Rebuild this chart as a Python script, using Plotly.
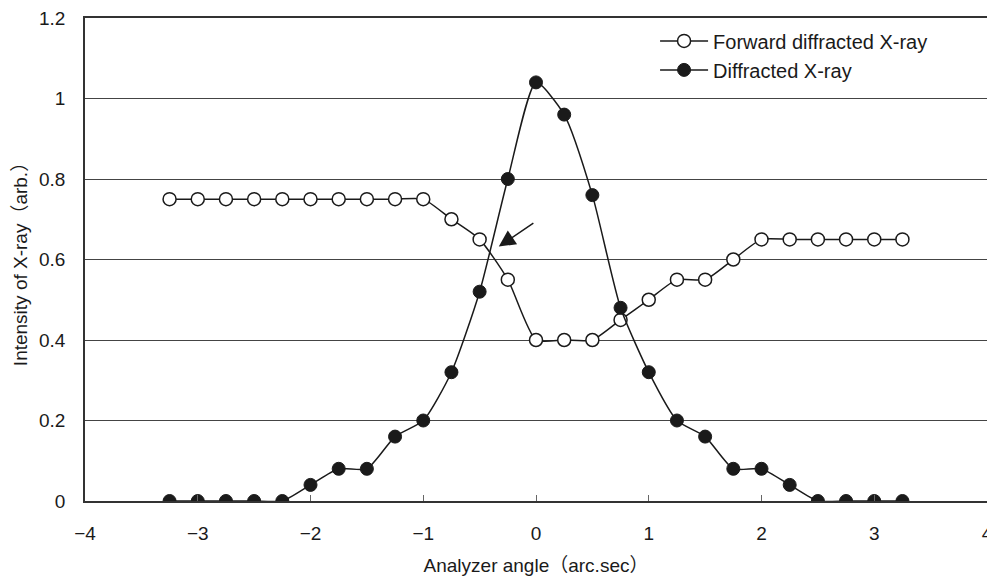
import plotly.graph_objects as go

angle = [-3.25, -3.0, -2.75, -2.5, -2.25, -2.0, -1.75, -1.5, -1.25, -1.0, -0.75, -0.5, -0.25,
         0.0, 0.25, 0.5, 0.75, 1.0, 1.25, 1.5, 1.75, 2.0, 2.25, 2.5, 2.75, 3.0, 3.25]
forward = [0.75, 0.75, 0.75, 0.75, 0.75, 0.75, 0.75, 0.75, 0.75, 0.75, 0.70, 0.65, 0.55,
           0.40, 0.40, 0.40, 0.45, 0.50, 0.55, 0.55, 0.60, 0.65, 0.65, 0.65, 0.65, 0.65, 0.65]
diffracted = [0.0, 0.0, 0.0, 0.0, 0.0, 0.04, 0.08, 0.08, 0.16, 0.20, 0.32, 0.52, 0.80,
              1.04, 0.96, 0.76, 0.48, 0.32, 0.20, 0.16, 0.08, 0.08, 0.04, 0.0, 0.0, 0.0, 0.0]
x_ticks = [-4, -3, -2, -1, 0, 1, 2, 3, 4]
x_tick_text = ["\u22124", "\u22123", "\u22122", "\u22121", "0", "1", "2", "3", "4"]
y_ticks = [0, 0.2, 0.4, 0.6, 0.8, 1.0, 1.2]
y_tick_text = ["0", "0.2", "0.4", "0.6", "0.8", "1", "1.2"]

FONT = "Liberation Sans, Arial, Noto Sans CJK JP, sans-serif"
INK = "#1a1a1a"

fig = go.Figure()
fig.add_trace(go.Scatter(
    x=angle, y=forward, name="Forward diffracted X-ray", mode="lines+markers",
    line=dict(color=INK, width=1.5, shape="spline", smoothing=0.6),
    marker=dict(symbol="circle", size=13, color="white", line=dict(color=INK, width=1.5)),
))
fig.add_trace(go.Scatter(
    x=angle, y=diffracted, name="Diffracted X-ray", mode="lines+markers",
    line=dict(color=INK, width=1.5, shape="spline", smoothing=0.6),
    marker=dict(symbol="circle", size=13, color=INK, line=dict(color=INK, width=1)),
))

fig.add_annotation(
    x=-0.33, y=0.632, ax=-0.01, ay=0.693, xref="x", yref="y", axref="x", ayref="y",
    text="", showarrow=True, arrowhead=2, arrowsize=2.2, arrowwidth=1.5, arrowcolor=INK,
)

fig.update_layout(
    width=995, height=577,
    margin=dict(l=77, r=16, t=10, b=84),
    plot_bgcolor="white", paper_bgcolor="white",
    font=dict(family=FONT, size=19, color=INK),
    showlegend=True,
    legend=dict(x=0.632, y=0.993, xanchor="left", yanchor="top", bgcolor="rgba(0,0,0,0)",
                font=dict(size=20), itemwidth=48, tracegroupgap=0),
    xaxis=dict(range=[-4, 4], tickvals=x_ticks, ticktext=x_tick_text, automargin=False,
               showgrid=False, zeroline=False, showline=True, linecolor="#333", linewidth=1.5,
               mirror=True, ticks="inside", ticklen=6, tickcolor="#666", ticklabelstandoff=14,
               ticklabeloverflow="allow",
               title=dict(text="Analyzer angle\uff08arc.sec\uff09", font=dict(size=19), standoff=16)),
    yaxis=dict(range=[0, 1.2], tickvals=y_ticks, ticktext=y_tick_text, automargin=False,
               showgrid=True, gridcolor="#444", gridwidth=1, zeroline=False,
               showline=True, linecolor="#333", linewidth=1.5, mirror=True, ticks="",
               ticklabelstandoff=14, ticklabeloverflow="allow",
               title=dict(text="Intensity of X-ray\uff08arb.\uff09", font=dict(size=19), standoff=6)),
)

fig.write_html("out.html")
